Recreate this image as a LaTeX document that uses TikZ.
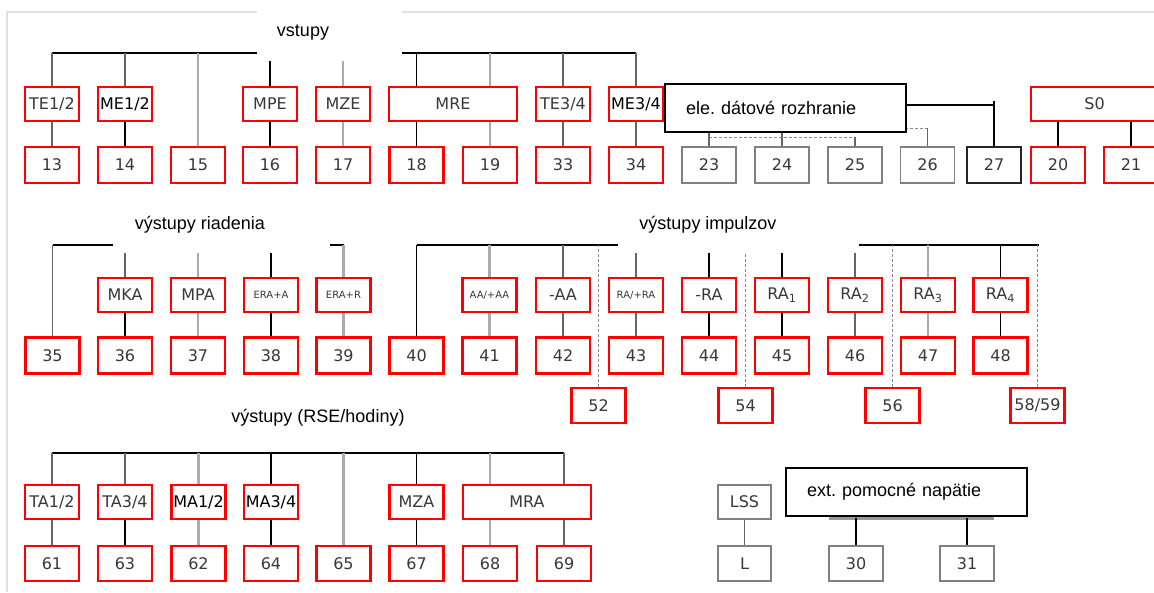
\documentclass[tikz,border=0pt]{standalone}
\usepackage{fontspec}
\setmainfont{Liberation Sans}
\newfontfamily\bxfam{DejaVu Sans}
\usetikzlibrary{backgrounds}
\newcommand\bxf{\bxfam\fontsize{16}{18}\selectfont}
\newcommand\bxs{\bxfam\fontsize{10}{12}\selectfont}
\newcommand\lbf{\fontsize{18}{21}\selectfont}
\frenchspacing
\begin{document}
\begin{tikzpicture}[x=1pt,y=-1pt,
  rb/.style={draw=red, line width=2.4pt, fill=white, minimum width=54pt, minimum height=34pt, inner sep=0pt, font=\bxf, text=black!78},
  lo/.style={minimum height=36pt},
  gb/.style={rb, draw=black!50, line width=1.8pt},
  lk/.style={draw=black, line width=1.7pt},
  ld/.style={draw=black!60, line width=1.7pt},
  lg/.style={draw=black!33, line width=2.5pt},
  ldash/.style={draw=black!45, line width=1pt, dash pattern=on 3pt off 2pt},
  frame/.style={draw=black!12, line width=2pt},
  lab/.style={inner sep=0pt, font=\lbf},
  tbox/.style={draw=black, line width=1.6pt, fill=white, text width=199pt, inner xsep=21pt, inner ysep=0pt, minimum height=48pt, align=left, font=\lbf}]
\useasboundingbox (0,0) rectangle (1154,592);

% ---------- row 1 ----------
\node[rb] (te12) at (52,104) {TE1/2};
\node[rb,text=black] (me12) at (125,104) {ME1/2};
\node[rb] (mpe) at (270,104) {MPE};
\node[rb] (mze) at (343,104) {MZE};
\node[rb,minimum width=128pt] (mre) at (453,104) {MRE};
\node[rb] (te34) at (563,104) {TE3/4};
\node[rb,text=black] (me34) at (636,104) {ME3/4};
\node[rb,minimum width=127pt] (s0) at (1094.5,104) {S0};
\node[rb,lo] (n13) at (52,165) {13};
\node[rb,lo] (n14) at (125,165) {14};
\node[rb,lo] (n15) at (198,165) {15};
\node[rb,lo] (n16) at (270,165) {16};
\node[rb,lo] (n17) at (343,165) {17};
\node[rb,lo] (n18) at (416.5,165) {18};
\node[rb,lo] (n19) at (490,165) {19};
\node[rb,lo] (n33) at (563,165) {33};
\node[rb,lo] (n34) at (636,165) {34};
\node[gb,lo] (n23) at (709,165) {23};
\node[gb,lo] (n24) at (782,165) {24};
\node[gb,lo] (n25) at (855,165) {25};
\node[gb,lo] (n26) at (927.5,165) {26};
\node[gb,lo,draw=black!85] (n27) at (994,165) {27};
\node[rb,lo] (n20) at (1058,165) {20};
\node[rb,lo] (n21) at (1131,165) {21};
\node[tbox] (ele) at (785.5,108) {ele. dátové rozhranie};

% ---------- row 2 ----------
\node[rb] (mka) at (125,295) {MKA};
\node[rb] (mpa) at (198,295) {MPA};
\node[rb,font=\bxs] (eraa) at (271,295) {ERA+A};
\node[rb,font=\bxs] (erar) at (343.5,295) {ERA+R};
\node[rb,font=\bxs] (aa) at (489.5,295) {AA/+AA};
\node[rb] (maa) at (563,295) {-AA};
\node[rb,font=\bxs] (rara) at (636,295) {RA/+RA};
\node[rb] (mra2) at (709,295) {-RA};
\node[rb] (ra1) at (782,295) {RA\textsubscript{1}};
\node[rb] (ra2) at (855,295) {RA\textsubscript{2}};
\node[rb] (ra3) at (928,295) {RA\textsubscript{3}};
\node[rb] (ra4) at (1000.5,295) {RA\textsubscript{4}};
\node[rb,lo] (n35) at (52.5,355.5) {35};
\node[rb,lo] (n36) at (125,355.5) {36};
\node[rb,lo] (n37) at (198,355.5) {37};
\node[rb,lo] (n38) at (271,355.5) {38};
\node[rb,lo] (n39) at (343.5,355.5) {39};
\node[rb,lo] (n40) at (416.5,355.5) {40};
\node[rb,lo] (n41) at (489.5,355.5) {41};
\node[rb,lo] (n42) at (563,355.5) {42};
\node[rb,lo] (n43) at (636,355.5) {43};
\node[rb,lo] (n44) at (709,355.5) {44};
\node[rb,lo] (n45) at (782,355.5) {45};
\node[rb,lo] (n46) at (855,355.5) {46};
\node[rb,lo] (n47) at (928,355.5) {47};
\node[rb,lo] (n48) at (1000.5,355.5) {48};
\node[rb,minimum height=35pt] (n52) at (598.5,405.5) {52};
\node[rb,minimum height=35pt] (n54) at (745.5,405.5) {54};
\node[rb,minimum height=35pt] (n56) at (892.5,405.5) {56};
\node[rb,minimum height=35pt] (n58) at (1037.5,405.5) {58/59};

% ---------- row 3 ----------
\node[rb] (ta12) at (52,502) {TA1/2};
\node[rb] (ta34) at (125,502) {TA3/4};
\node[rb,text=black] (ma12) at (198.5,502) {MA1/2};
\node[rb,text=black] (ma34) at (271,502) {MA3/4};
\node[rb] (mza) at (416.5,502) {MZA};
\node[rb,minimum width=128pt] (mra) at (527,502) {MRA};
\node[rb,minimum height=35pt] (n61) at (52,563.5) {61};
\node[rb,minimum height=35pt] (n63) at (125,563.5) {63};
\node[rb,minimum height=35pt] (n62) at (198.5,563.5) {62};
\node[rb,minimum height=35pt] (n64) at (271,563.5) {64};
\node[rb,minimum height=35pt] (n65) at (343.5,563.5) {65};
\node[rb,minimum height=35pt] (n67) at (416.5,563.5) {67};
\node[rb,minimum height=35pt] (n68) at (490,563.5) {68};
\node[rb,minimum height=35pt] (n69) at (564,563.5) {69};
\node[gb,minimum width=53pt] (lss) at (744.5,502) {LSS};
\node[gb,minimum width=53pt,minimum height=35pt] (nl) at (744.5,563.5) {L};
\node[gb,minimum height=35pt] (n30) at (856,563.5) {30};
\node[gb,minimum height=35pt] (n31) at (967,563.5) {31};
\node[tbox] (ext) at (906.5,492) {ext. pomocné napätie};

% ---------- connectors ----------
\begin{scope}[on background layer]
\draw[frame] (7,592) -- (7,12) -- (1154,12);
% row 1
\coordinate (b1w) at (52,53); \coordinate (b1e) at (636,53);
\draw[lk] (b1w) -- (b1e);
\draw[ld] (te12.north) -- (te12.north |- b1w);
\draw[ld] (n13.north) -- (te12.south);
\draw[ld] (me12.north) -- (me12.north |- b1w);
\draw[lk] (n14.north) -- (me12.south);
\draw[lg] (n15.north) -- (n15.north |- b1w);
\draw[lk] (mpe.north) -- (mpe.north |- b1w);
\draw[lk] (n16.north) -- (mpe.south);
\draw[lg] (mze.north) -- (mze.north |- b1w);
\draw[lg] (n17.north) -- (mze.south);
\draw[lk] (n18.north |- mre.north) -- (n18.north |- b1w);
\draw[lk] (n18.north) -- (n18.north |- mre.south);
\draw[lg] (n19.north |- mre.north) -- (n19.north |- b1w);
\draw[lg] (n19.north) -- (n19.north |- mre.south);
\draw[ld] (te34.north) -- (te34.north |- b1w);
\draw[ld] (n33.north) -- (te34.south);
\draw[ld] (me34.north) -- (me34.north |- b1w);
\draw[ld] (n34.north) -- (me34.south);
\coordinate (d1) at (709,137); \coordinate (d2) at (855,137);
\draw[ldash] (d1) -- (d2);
\draw[ld,line width=1.2pt] (n23.north) -- (n23.north |- 0,133);
\draw[ld,line width=1.2pt] (n24.north) -- (n24.north |- 0,133);
\draw[ld,line width=1.2pt] (n25.north) -- (n25.north |- d2);
\coordinate (d3) at (880,128);
\draw[ldash] (d3) -- (d3 -| n26.north);
\draw[ld,line width=1.2pt] (n26.north) -- (n26.north |- d3);
\coordinate (c27) at (993,105); \coordinate (c27t) at (993,101);
\draw[lk] (ele.east |- c27) -- (c27);
\draw[lk] (n27.north) -- (n27.north |- c27t);
\draw[lk] (n20.north) -- (n20.north |- s0.south);
\draw[lk] (n21.north) -- (n21.north |- s0.south);
% row 2 left
\coordinate (b2w) at (52.5,245); \coordinate (b2e) at (343.5,245);
\draw[lk] (b2w) -- (b2e);
\draw[ld] (n35.north) -- (n35.north |- b2w);
\draw[ld] (mka.north) -- (mka.north |- b2w);
\draw[lk] (n36.north) -- (mka.south);
\draw[lg] (mpa.north) -- (mpa.north |- b2w);
\draw[lg] (n37.north) -- (mpa.south);
\draw[lk] (eraa.north) -- (eraa.north |- b2w);
\draw[lk] (n38.north) -- (eraa.south);
\draw[lg] (erar.north) -- (erar.north |- b2w);
\draw[lg] (n39.north) -- (erar.south);
% row 2 right
\coordinate (b3w) at (416.5,245); \coordinate (b3e) at (1039,245);
\draw[lk] (b3w) -- (b3e);
\draw[lk] (n40.north) -- (n40.north |- b3w);
\draw[lg] (aa.north) -- (aa.north |- b3w);
\draw[lg] (n41.north) -- (aa.south);
\draw[ld] (maa.north) -- (maa.north |- b3w);
\draw[ld] (n42.north) -- (maa.south);
\draw[ldash] (n52.north) -- (n52.north |- b3w);
\draw[ld] (rara.north) -- (rara.north |- b3w);
\draw[ld] (n43.north) -- (rara.south);
\draw[lk] (mra2.north) -- (mra2.north |- b3w);
\draw[lk] (n44.north) -- (mra2.south);
\draw[ldash] (n54.north) -- (n54.north |- b3w);
\draw[lk] (ra1.north) -- (ra1.north |- b3w);
\draw[lk] (n45.north) -- (ra1.south);
\draw[ld] (ra2.north) -- (ra2.north |- b3w);
\draw[ld] (n46.north) -- (ra2.south);
\draw[ldash] (n56.north) -- (n56.north |- b3w);
\draw[lg] (ra3.north) -- (ra3.north |- b3w);
\draw[lg] (n47.north) -- (ra3.south);
\draw[lk] (ra4.north) -- (ra4.north |- b3w);
\draw[lk] (n48.north) -- (ra4.south);
\draw[ldash] (n58.north) -- (n58.north |- b3e);
% row 3
\coordinate (b4w) at (52,453); \coordinate (b4e) at (564,453);
\draw[lk] (b4w) -- (b4e);
\draw[ld] (ta12.north) -- (ta12.north |- b4w);
\draw[ld] (n61.north) -- (ta12.south);
\draw[ld] (ta34.north) -- (ta34.north |- b4w);
\draw[lk] (n63.north) -- (ta34.south);
\draw[lg] (ma12.north) -- (ma12.north |- b4w);
\draw[lg] (n62.north) -- (ma12.south);
\draw[lk] (ma34.north) -- (ma34.north |- b4w);
\draw[lk] (n64.north) -- (ma34.south);
\draw[lg] (n65.north) -- (n65.north |- b4w);
\draw[lk] (mza.north) -- (mza.north |- b4w);
\draw[lk] (n67.north) -- (mza.south);
\draw[lg] (n68.north |- mra.north) -- (n68.north |- b4w);
\draw[lg] (n68.north) -- (n68.north |- mra.south);
\draw[ld] (n69.north |- mra.north) -- (n69.north |- b4w);
\draw[ld] (n69.north) -- (n69.north |- mra.south);
\draw[ld] (nl.north) -- (lss.south);
\coordinate (p1) at (829,518); \coordinate (p2) at (994,518);
\draw[draw=black!40, line width=3.5pt] (p1) -- (p2);
\draw[lk] (n30.north) -- (n30.north |- p1);
\draw[lk] (n31.north) -- (n31.north |- p1);
\end{scope}

% white label areas and titles
\fill[white] (257,4) rectangle (402,61);
\fill[white] (113,203) rectangle (330,253);
\fill[white] (618,203) rectangle (859,253);
\node[lab] (t1) at (303,33) {vstupy};
\node[lab] (t2) at (200,225) {výstupy riadenia};
\node[lab] (t3) at (708,225) {výstupy impulzov};
\node[lab] (t4) at (318,418) {výstupy (RSE/hodiny)};
\end{tikzpicture}
\end{document}
